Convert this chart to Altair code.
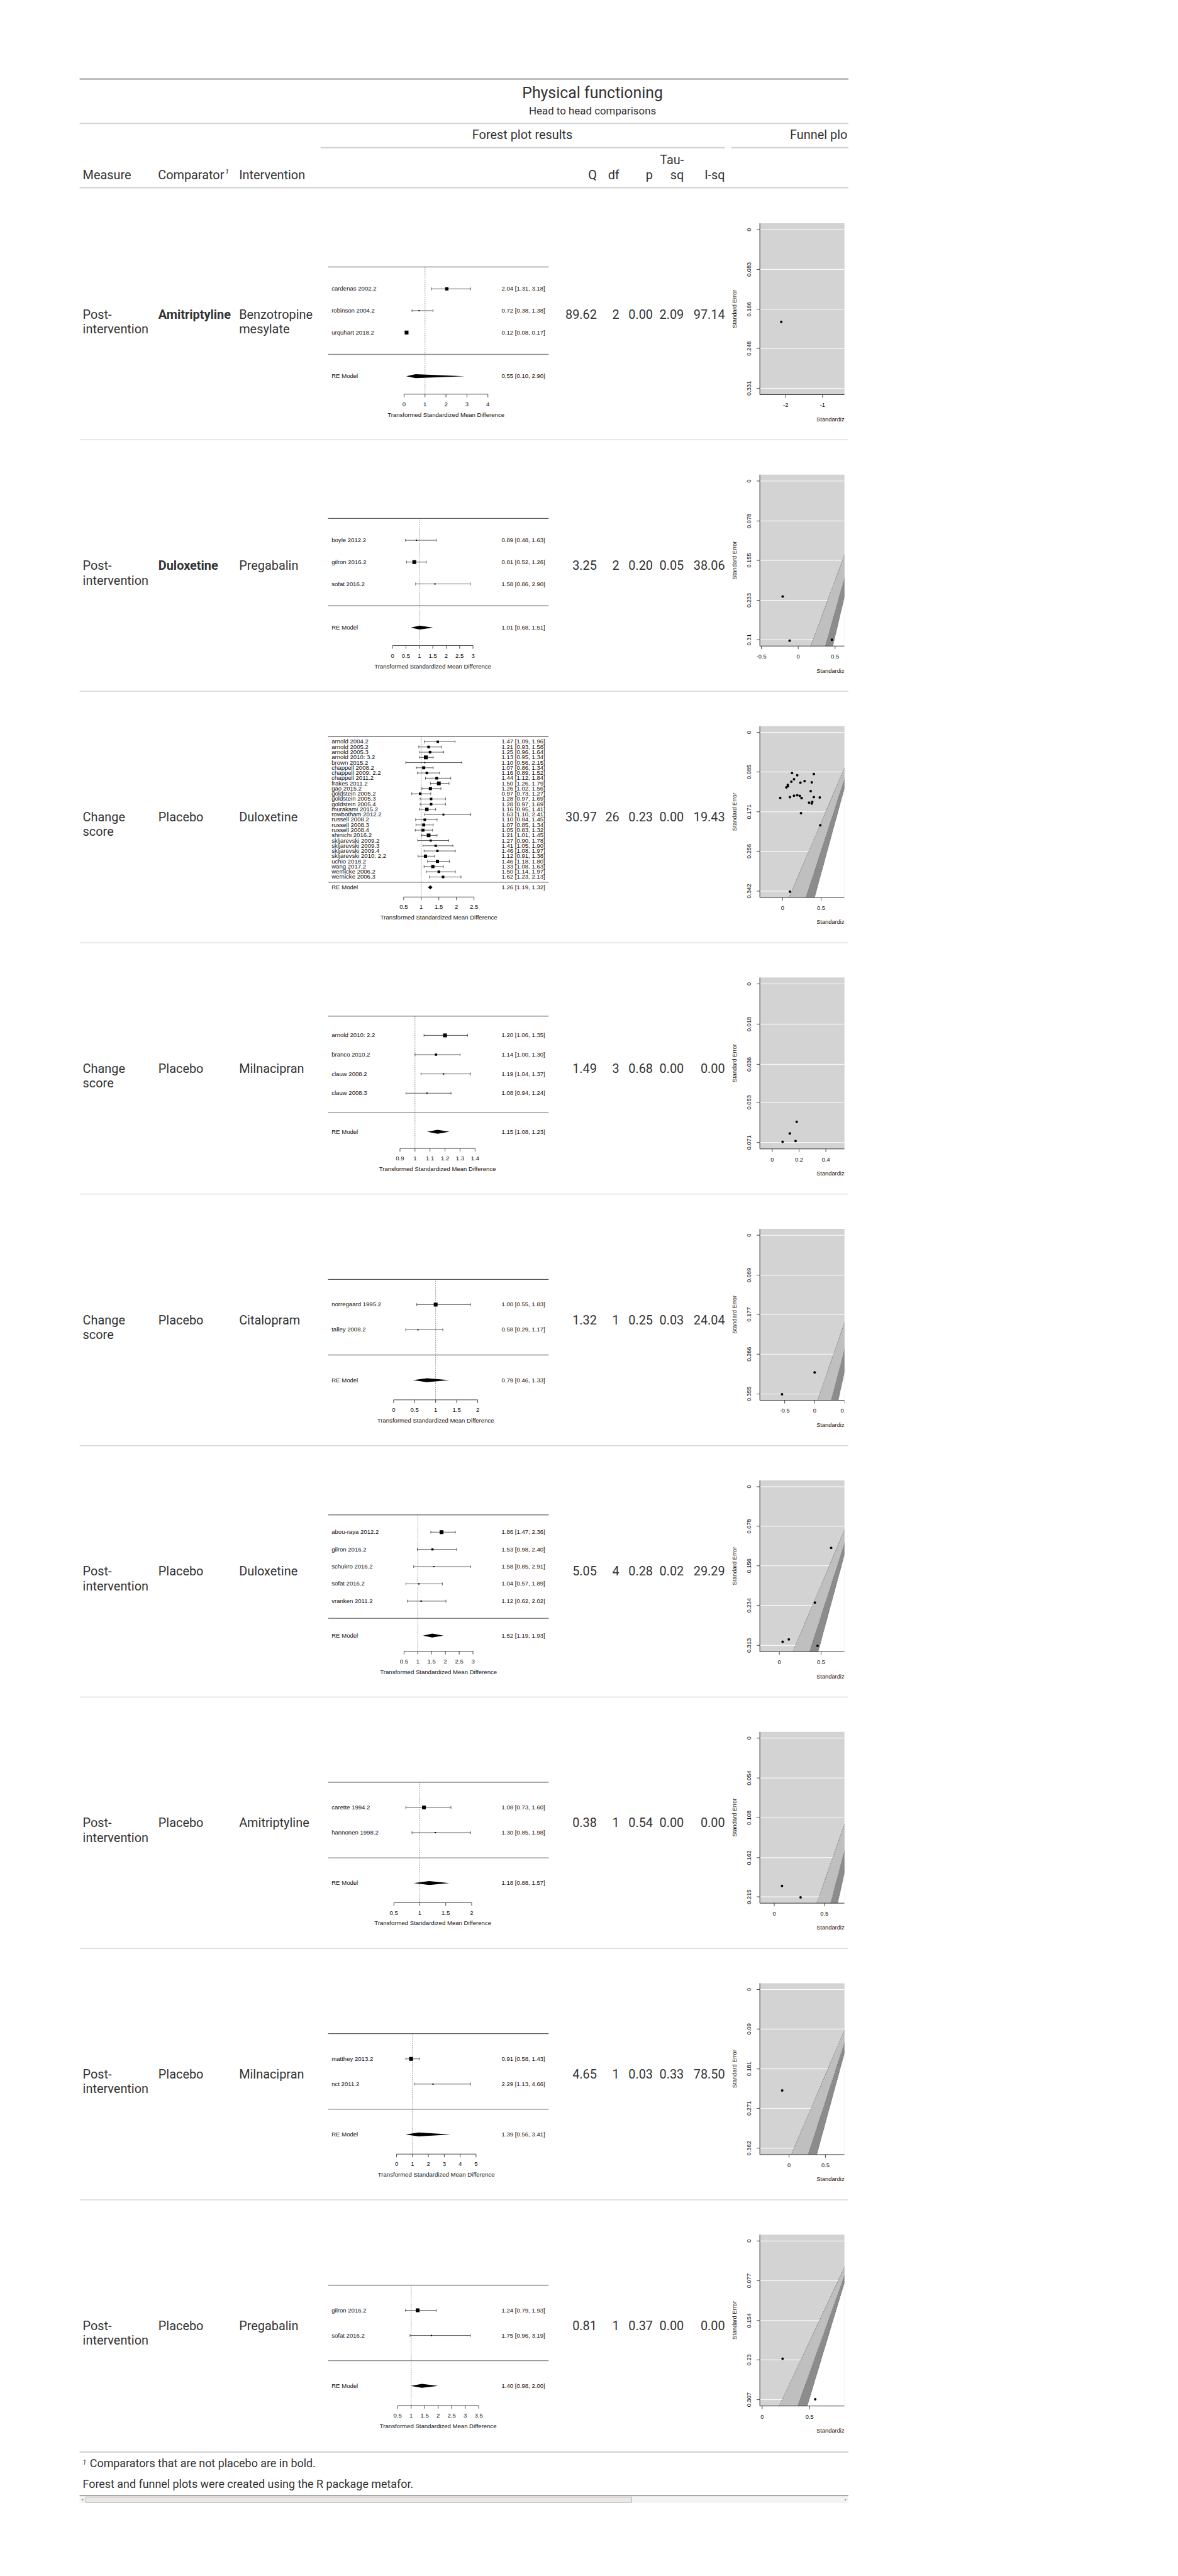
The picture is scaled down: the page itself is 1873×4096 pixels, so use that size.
import altair as alt
import pandas as pd

S = 0.623  # drawing scale (reference px -> window px)

# ============================ DATA ============================
title_text = "Physical functioning"
subtitle_text = "Head to head comparisons"
spanner_forest = "Forest plot results"
spanner_funnel = "Funnel plots"
col_labels = ["Measure", "Comparator", "Intervention", "Q", "df", "p", "Tau-sq", "I-sq"]
footnote_1 = "Comparators that are not placebo are in bold."
footnote_2 = "Forest and funnel plots were created using the R package metafor."

measures = ["Post-intervention", "Post-intervention", "Change score", "Change score", "Change score",
            "Post-intervention", "Post-intervention", "Post-intervention", "Post-intervention"]
comparators = ["Amitriptyline", "Duloxetine", "Placebo", "Placebo", "Placebo",
               "Placebo", "Placebo", "Placebo", "Placebo"]
comparator_bold = [True, True, False, False, False, False, False, False, False]
interventions = ["Benzotropine mesylate", "Pregabalin", "Duloxetine", "Milnacipran", "Citalopram",
                 "Duloxetine", "Amitriptyline", "Milnacipran", "Pregabalin"]
q_values = [89.62, 3.25, 30.97, 1.49, 1.32, 5.05, 0.38, 4.65, 0.81]
df_values = [2, 2, 26, 3, 1, 4, 1, 1, 1]
p_values = [0.00, 0.20, 0.23, 0.68, 0.25, 0.28, 0.54, 0.03, 0.37]
tau_sq_values = [2.09, 0.05, 0.00, 0.00, 0.03, 0.02, 0.00, 0.33, 0.00]
i_sq_values = [97.14, 38.06, 19.43, 0.00, 24.04, 29.29, 0.00, 78.50, 0.00]

study_labels = [
    ["cardenas 2002.2", "robinson 2004.2", "urquhart 2018.2"],
    ["boyle 2012.2", "gilron 2016.2", "sofat 2016.2"],
    ["arnold 2004.2", "arnold 2005.2", "arnold 2005.3", "arnold 2010: 3.2", "brown 2015.2",
     "chappell 2008.2", "chappell 2009: 2.2", "chappell 2011.2", "frakes 2011.2", "gao 2015.2",
     "goldstein 2005.2", "goldstein 2005.3", "goldstein 2005.4", "murakami 2015.2",
     "rowbotham 2012.2", "russell 2008.2", "russell 2008.3", "russell 2008.4", "shinichi 2016.2",
     "skljarevski 2009.2", "skljarevski 2009.3", "skljarevski 2009.4", "skljarevski 2010: 2.2",
     "uchio 2018.2", "wang 2017.2", "wernicke 2006.2", "wernicke 2006.3"],
    ["arnold 2010: 2.2", "branco 2010.2", "clauw 2008.2", "clauw 2008.3"],
    ["norregaard 1995.2", "talley 2008.2"],
    ["abou-raya 2012.2", "gilron 2016.2", "schukro 2016.2", "sofat 2016.2", "vranken 2011.2"],
    ["carette 1994.2", "hannonen 1998.2"],
    ["matthey 2013.2", "nct 2011.2"],
    ["gilron 2016.2", "sofat 2016.2"],
]
study_est = [
    [2.04, 0.72, 0.12],
    [0.89, 0.81, 1.58],
    [1.47, 1.21, 1.25, 1.13, 1.10, 1.07, 1.16, 1.44, 1.50, 1.26, 0.97, 1.28, 1.28, 1.16,
     1.63, 1.10, 1.07, 1.05, 1.21, 1.27, 1.41, 1.46, 1.12, 1.46, 1.33, 1.50, 1.62],
    [1.20, 1.14, 1.19, 1.08],
    [1.00, 0.58],
    [1.86, 1.53, 1.58, 1.04, 1.12],
    [1.08, 1.30],
    [0.91, 2.29],
    [1.24, 1.75],
]
study_lo = [
    [1.31, 0.38, 0.08],
    [0.48, 0.52, 0.86],
    [1.09, 0.93, 0.96, 0.95, 0.56, 0.86, 0.89, 1.12, 1.26, 1.02, 0.73, 0.97, 0.97, 0.95,
     1.10, 0.84, 0.85, 0.83, 1.01, 0.90, 1.05, 1.08, 0.91, 1.18, 1.08, 1.14, 1.23],
    [1.06, 1.00, 1.04, 0.94],
    [0.55, 0.29],
    [1.47, 0.98, 0.85, 0.57, 0.62],
    [0.73, 0.85],
    [0.58, 1.13],
    [0.79, 0.96],
]
study_hi = [
    [3.18, 1.38, 0.17],
    [1.63, 1.26, 2.90],
    [1.96, 1.58, 1.64, 1.34, 2.15, 1.34, 1.52, 1.84, 1.79, 1.56, 1.27, 1.69, 1.69, 1.41,
     2.41, 1.45, 1.34, 1.32, 1.45, 1.78, 1.90, 1.97, 1.38, 1.80, 1.63, 1.97, 2.13],
    [1.35, 1.30, 1.37, 1.24],
    [1.83, 1.17],
    [2.36, 2.40, 2.91, 1.89, 2.02],
    [1.60, 1.98],
    [1.43, 4.66],
    [1.93, 3.19],
]
re_label = "RE Model"
re_est = [0.55, 1.01, 1.26, 1.15, 0.79, 1.52, 1.18, 1.39, 1.40]
re_lo = [0.10, 0.68, 1.19, 1.08, 0.46, 1.19, 0.88, 0.56, 0.98]
re_hi = [2.90, 1.51, 1.32, 1.23, 1.33, 1.93, 1.57, 3.41, 2.00]

forest_ticks = [
    [0, 1, 2, 3, 4],
    [0, 0.5, 1, 1.5, 2, 2.5, 3],
    [0.5, 1, 1.5, 2, 2.5],
    [0.9, 1.0, 1.1, 1.2, 1.3, 1.4],
    [0, 0.5, 1, 1.5, 2],
    [0.5, 1, 1.5, 2, 2.5, 3],
    [0.5, 1, 1.5, 2],
    [0, 1, 2, 3, 4, 5],
    [0.5, 1, 1.5, 2, 2.5, 3, 3.5],
]
forest_axis_title = "Transformed Standardized Mean Difference"

funnel_se_ticks = [
    ["0", "0.083", "0.166", "0.248", "0.331"],
    ["0", "0.078", "0.155", "0.233", "0.31"],
    ["0", "0.085", "0.171", "0.256", "0.342"],
    ["0", "0.018", "0.036", "0.053", "0.071"],
    ["0", "0.089", "0.177", "0.266", "0.355"],
    ["0", "0.078", "0.156", "0.234", "0.313"],
    ["0", "0.054", "0.108", "0.162", "0.215"],
    ["0", "0.09", "0.181", "0.271", "0.362"],
    ["0", "0.077", "0.154", "0.23", "0.307"],
]
funnel_x_ticks = [
    [-2, -1], [-0.5, 0, 0.5], [0, 0.5], [0, 0.2, 0.4], [-0.5, 0, 0.5],
    [0, 0.5], [0, 0.5], [0, 0.5], [0, 0.5],
]
# visible part of each funnel's x range (the image is clipped on the right)
funnel_x_window = [
    [-2.702, -0.404], [-0.521, 0.628], [-0.295, 0.803], [-0.093, 0.539], [-0.915, 0.497],
    [-0.234, 0.780], [-0.144, 0.700], [-0.402, 0.762], [-0.025, 0.868],
]
funnel_refline = 1.0
contour_z = [2.576, 1.960, 1.645]  # 99%, 95%, 90% contours
funnel_y_title = "Standard Error"
funnel_x_title = "Standardized Mean Difference"

# ============================ LAYOUT ============================
W = 1962.0          # table width (reference px)
WV = 1952.0         # visible (clipped) width of the embedded images
ROW0 = 281.0        # top of first body row
ROWH = 641.7        # body row height
H = 6195.0
TF = "Roboto"
RF = "Liberation Sans"
TC = "#333333"
FS = 19.9
FOREST_TICK_PX = [(828, 1042), (798.7, 1004), (827, 1006.5), (817.6, 1009.2), (801.3, 1016),
                  (827.9, 1004), (802, 1000.6), (809, 1011.7), (811.6, 1018.6)]
FOREST_TOP, FOREST_BOTTOM = 89.0, 507.0
FOREST_X0, FOREST_X1 = 634.0, 1197.0
FOREST_LABEL_X, FOREST_ANN_X = 643.0, 1188.0
FUNNEL_X0, FUNNEL_X1 = 1736.0, WV
FUNNEL_TOP, FUNNEL_BOTTOM = 88.8, 526.2
RFS = 9.6
FFS = 9.3
CI = "#333333"


def P(v):
    return round(v * S, 2)


ONE = pd.DataFrame({"k": [0]})


def txt(s, x, y, size, align="left", baseline="alphabetic", weight="normal", style="normal",
        font=TF, color=TC, limit=None):
    kw = {}
    if limit is not None:
        kw = {"limit": limit, "ellipsis": " "}
    return alt.Chart(pd.DataFrame({"t": [s]})).mark_text(
        align=align, baseline=baseline, fontSize=size, fontWeight=weight, fontStyle=style,
        font=font, color=color, **kw
    ).encode(x=alt.value(P(x)), y=alt.value(P(y)), text="t:N")


def hrule(y, x0, x1, color, width):
    return alt.Chart(ONE).mark_rule(color=color, strokeWidth=width).encode(
        x=alt.value(P(x0)), x2=alt.value(P(x1)), y=alt.value(P(y)))


layers = []

# ---------------- header ----------------
layers += [
    hrule(1.75, 0, W, "#A8A8A8", P(3.5)),
    txt(title_text, 1309, 50, 24.9, align="center"),
    txt(subtitle_text, 1309, 91.7, 16.9, align="center"),
    hrule(115, 0, W, "#D3D3D3", P(3.5)),
    txt(spanner_forest, 1130, 155, FS, align="center"),
    txt(spanner_funnel, 1813, 155, FS, limit=P(161)),
    hrule(177, 615, 1647, "#D3D3D3", P(3.5)),
    hrule(177, 1663, W, "#D3D3D3", P(3.5)),
    hrule(279, 0, W, "#D3D3D3", P(3.5)),
]
COL_POS = [(8, "left"), (200, "left"), (407, "left"), (1320, "right"), (1377.5, "right"),
           (1463, "right"), (1542, "right"), (1647, "right")]
for lab, (cx, al) in zip(col_labels, COL_POS):
    if lab == "Tau-sq":
        a, b = lab.split("-")
        layers.append(txt(a + "-", cx, 218.3, FS, align=al))
        layers.append(txt(b, cx, 256.7, FS, align=al))
    else:
        layers.append(txt(lab, cx, 256.7, FS, align=al))
layers.append(txt("1", 371, 245, 11.5, style="italic"))

# ---------------- table body ----------------
rows_df = pd.DataFrame({
    "row": list(range(len(measures))),
    "measure": [m.replace("-", "-\n") if "-" in m else m.replace(" ", "\n") for m in measures],
    "comparator": comparators,
    "bold": comparator_bold,
    "intervention": [s.replace(" ", "\n") for s in interventions],
    "Q": q_values, "df": df_values, "p": p_values, "tau": tau_sq_values, "isq": i_sq_values,
})
row_scale = alt.Scale(domain=[0, 8], range=[P(ROW0 + ROWH / 2), P(ROW0 + ROWH * 8.5)])
YR = alt.Y("row:Q", scale=row_scale, axis=None)


def body(text_enc, x, align="left", weight="normal", flt=None):
    c = alt.Chart(rows_df)
    if flt:
        c = c.transform_filter(flt)
    return c.mark_text(align=align, baseline="middle", font=TF, fontSize=FS, fontWeight=weight,
                       lineBreak="\n", lineHeight=P(37.5), color=TC, dy=1).encode(
        x=alt.value(P(x)), y=YR, text=text_enc)


layers += [
    body("measure:N", 8),
    body("comparator:N", 201, weight="bold", flt="datum.bold"),
    body("comparator:N", 201, flt="!datum.bold"),
    body("intervention:N", 407),
    body(alt.Text("Q:Q", format=".2f"), 1320, align="right"),
    body(alt.Text("df:Q", format="d"), 1377.5, align="right"),
    body(alt.Text("p:Q", format=".2f"), 1463, align="right"),
    body(alt.Text("tau:Q", format=".2f"), 1542, align="right"),
    body(alt.Text("isq:Q", format=".2f"), 1647, align="right"),
    alt.Chart(pd.DataFrame({"b": [i + 0.5 for i in range(8)]})).mark_rule(
        color="#D3D3D3", strokeWidth=1.2).encode(
        y=alt.Y("b:Q", scale=row_scale, axis=None), x=alt.value(0), x2=alt.value(P(W))),
    alt.Chart(pd.DataFrame({"b": [8.5]})).mark_rule(color="#D3D3D3", strokeWidth=P(3.5)).encode(
        y=alt.Y("b:Q", scale=row_scale, axis=None), x=alt.value(0), x2=alt.value(P(W)),
        yOffset=alt.value(P(2))),
]


# ---------------- forest plots ----------------
def forest_layers(i):
    k = len(study_labels[i])
    top = ROW0 + ROWH * i
    ticks = forest_ticks[i]
    xs = alt.Scale(domain=[ticks[0], ticks[-1]],
                   range=[P(FOREST_TICK_PX[i][0]), P(FOREST_TICK_PX[i][1])])
    ys = alt.Scale(domain=[-1.5, k + 3], range=[P(top + FOREST_BOTTOM), P(top + FOREST_TOP)])

    def X(f):
        return alt.X(f, scale=xs, axis=None)

    def Y(f):
        return alt.Y(f, scale=ys, axis=None)

    sd = pd.DataFrame({"label": study_labels[i], "est": study_est[i], "lo": study_lo[i],
                       "hi": study_hi[i], "yrow": list(range(k, 0, -1))})
    sd["tau2"] = tau_sq_values[i]
    base = alt.Chart(sd).transform_calculate(
        sei="(log(datum.hi) - log(datum.lo)) / 3.92"
    ).transform_calculate(
        wi="1 / sqrt(datum.sei * datum.sei + datum.tau2)"
    ).transform_joinaggregate(
        wmin="min(wi)", wmax="max(wi)"
    ).transform_calculate(
        psize="datum.wmax - datum.wmin > 1e-9 ? 0.5 + (datum.wi - datum.wmin) / (datum.wmax - datum.wmin) : 1"
    ).transform_calculate(
        parea="datum.psize * datum.psize",
        ann="format(datum.est, '.2f') + ' [' + format(datum.lo, '.2f') + ', ' + format(datum.hi, '.2f') + ']'"
    )
    red = pd.DataFrame({"label": [re_label], "est": [re_est[i]], "lo": [re_lo[i]], "hi": [re_hi[i]],
                        "yrow": [-1]})
    rebase = alt.Chart(red).transform_calculate(
        ann="format(datum.est, '.2f') + ' [' + format(datum.lo, '.2f') + ', ' + format(datum.hi, '.2f') + ']'"
    )
    h = 5.0 * (k + 4.5) / (FOREST_BOTTOM - FOREST_TOP)
    dia = pd.DataFrame({"xv": [re_lo[i], re_est[i], re_hi[i]],
                        "yt": [-1, -1 + h, -1], "yb": [-1, -1 - h, -1]})
    axd = pd.DataFrame({"t": ticks, "lab": [f"{t:g}" for t in ticks], "yb": -1.5})
    out = [
        alt.Chart(pd.DataFrame({"yv": [k + 1]})).mark_rule(color="#222222", strokeWidth=0.9).encode(
            x=alt.value(P(FOREST_X0)), x2=alt.value(P(FOREST_X1)), y=Y("yv:Q")),
        alt.Chart(pd.DataFrame({"yv": [0]})).mark_rule(color="#8A8A8A", strokeWidth=1.4).encode(
            x=alt.value(P(FOREST_X0)), x2=alt.value(P(FOREST_X1)), y=Y("yv:Q")),
        alt.Chart(pd.DataFrame({"xv": [funnel_refline], "yv": [k + 1]})).mark_rule(
            color="#555555", strokeWidth=0.7, strokeDash=[1.5, 1.5]).encode(
            x=X("xv:Q"), y=Y("yv:Q"), y2=alt.value(P(top + 525))),
        base.mark_rule(color=CI, strokeWidth=0.8).encode(x=X("lo:Q"), x2="hi:Q", y=Y("yrow:Q")),
        base.mark_rule(color=CI, strokeWidth=0.8, yOffset=-P(3.5), y2Offset=P(3.5)).encode(
            x=X("lo:Q"), y=Y("yrow:Q"), y2="yrow:Q"),
        base.mark_rule(color=CI, strokeWidth=0.8, yOffset=-P(3.5), y2Offset=P(3.5)).encode(
            x=X("hi:Q"), y=Y("yrow:Q"), y2="yrow:Q"),
        base.mark_square(color="black", opacity=1).encode(
            x=X("est:Q"), y=Y("yrow:Q"),
            size=alt.Size("parea:Q", scale=alt.Scale(domain=[0, 2.25], range=[0, 37]), legend=None)),
        base.mark_text(align="left", baseline="middle", font=RF, fontSize=RFS, color="#111111").encode(
            x=alt.value(P(FOREST_LABEL_X)), y=Y("yrow:Q"), text="label:N"),
        base.mark_text(align="right", baseline="middle", font=RF, fontSize=RFS, color="#111111").encode(
            x=alt.value(P(FOREST_ANN_X)), y=Y("yrow:Q"), text="ann:N"),
        rebase.mark_text(align="left", baseline="middle", font=RF, fontSize=RFS, color="#111111").encode(
            x=alt.value(P(FOREST_LABEL_X)), y=Y("yrow:Q"), text="label:N"),
        rebase.mark_text(align="right", baseline="middle", font=RF, fontSize=RFS, color="#111111").encode(
            x=alt.value(P(FOREST_ANN_X)), y=Y("yrow:Q"), text="ann:N"),
        alt.Chart(dia).mark_area(color="black", opacity=1, orient="vertical").encode(
            x=X("xv:Q"), y=Y("yt:Q"), y2="yb:Q"),
        alt.Chart(pd.DataFrame({"a": [ticks[0]], "b": [ticks[-1]], "yb": [-1.5]})).mark_rule(
            color="#333333", strokeWidth=0.9, yOffset=P(18)).encode(x=X("a:Q"), x2="b:Q", y=Y("yb:Q")),
        alt.Chart(axd).mark_rule(color="#333333", strokeWidth=0.9, yOffset=P(18), y2Offset=P(26)).encode(
            x=X("t:Q"), y=Y("yb:Q"), y2="yb:Q"),
        alt.Chart(axd).mark_text(baseline="middle", align="center", font=RF, fontSize=RFS,
                                 color="#111111", yOffset=P(44)).encode(
            x=X("t:Q"), y=Y("yb:Q"), text="lab:N"),
        alt.Chart(pd.DataFrame({"c": [(ticks[0] + ticks[-1]) / 2], "yb": [-1.5],
                                "t": [forest_axis_title]})).mark_text(
            baseline="middle", align="center", font=RF, fontSize=RFS, color="#111111",
            yOffset=P(71)).encode(x=X("c:Q"), y=Y("yb:Q"), text="t:N"),
    ]
    return out


# ---------------- funnel plots ----------------
def funnel_layers(i):
    top = ROW0 + ROWH * i
    yt = [float(s) for s in funnel_se_ticks[i]]
    m = yt[-1]
    y0, y1 = -0.04 * m, 1.04 * m
    xw0, xw1 = funnel_x_window[i]
    xs = alt.Scale(domain=[xw0, xw1], range=[P(FUNNEL_X0), P(FUNNEL_X1)])
    ys = alt.Scale(domain=[y0, y1], range=[P(top + FUNNEL_TOP), P(top + FUNNEL_BOTTOM)])

    def X(f):
        return alt.X(f, scale=xs, axis=None)

    def Y(f):
        return alt.Y(f, scale=ys, axis=None)

    se_ends = pd.DataFrame({"se": [0.0, y1]})
    z99, z95, z90 = contour_z
    ref = funnel_refline
    pts = pd.DataFrame({"est": study_est[i], "lo": study_lo[i], "hi": study_hi[i]})
    grid = pd.DataFrame({"yv": yt, "lab": funnel_se_ticks[i], "x0": xw0, "x1": xw1})
    xt = pd.DataFrame({"t": funnel_x_ticks[i], "lab": [f"{t:g}" for t in funnel_x_ticks[i]], "yb": y1})
    lines = pd.DataFrame({"z": [z for z in contour_z for _ in (0, 1)],
                          "se": [s for _ in contour_z for s in (0.0, y1)]})
    out = [
        alt.Chart(pd.DataFrame({"a": [xw0], "b": [xw1], "c": [y0], "d": [y1]})).mark_rect(
            color="#D3D3D3").encode(x=X("a:Q"), x2="b:Q", y=Y("c:Q"), y2="d:Q"),
        alt.Chart(grid).mark_rule(color="white", strokeWidth=1).encode(x=X("x0:Q"), x2="x1:Q", y=Y("yv:Q")),
        alt.Chart(se_ends).transform_calculate(
            xa=f"{ref} - {z90} * datum.se", xb=f"{ref} + {z90} * datum.se").mark_area(
            color="white", opacity=1, orient="horizontal", clip=True).encode(
            y=Y("se:Q"), x=X("xa:Q"), x2="xb:Q"),
        alt.Chart(se_ends).transform_calculate(
            xa=f"{ref} - {z95} * datum.se", xb=f"{ref} - {z90} * datum.se").mark_area(
            color="#8C8C8C", opacity=1, orient="horizontal", clip=True).encode(
            y=Y("se:Q"), x=X("xa:Q"), x2="xb:Q"),
        alt.Chart(se_ends).transform_calculate(
            xa=f"{ref} - {z99} * datum.se", xb=f"{ref} - {z95} * datum.se").mark_area(
            color="#BFBFBF", opacity=1, orient="horizontal", clip=True).encode(
            y=Y("se:Q"), x=X("xa:Q"), x2="xb:Q"),
        alt.Chart(lines).transform_calculate(xv=f"{ref} - datum.z * datum.se").mark_line(
            color="#444444", strokeWidth=0.6, strokeDash=[1.5, 1.5], clip=True).encode(
            x=X("xv:Q"), y=Y("se:Q"), detail="z:N"),
        alt.Chart(pts).transform_calculate(
            yi="log(datum.est)", sei="(log(datum.hi) - log(datum.lo)) / 3.92").mark_circle(
            color="black", opacity=1, size=16, clip=True).encode(x=X("yi:Q"), y=Y("sei:Q")),
        # axes (box "l")
        alt.Chart(pd.DataFrame({"a": [xw0], "c": [y0], "d": [y1]})).mark_rule(
            color="#333333", strokeWidth=1).encode(x=X("a:Q"), y=Y("c:Q"), y2="d:Q"),
        alt.Chart(pd.DataFrame({"a": [xw0], "b": [xw1], "d": [y1]})).mark_rule(
            color="#333333", strokeWidth=1, clip=True).encode(x=X("a:Q"), x2="b:Q", y=Y("d:Q")),
        alt.Chart(grid).mark_rule(color="#333333", strokeWidth=0.9, xOffset=-P(8), x2Offset=0).encode(
            x=X("x0:Q"), x2="x0:Q", y=Y("yv:Q")),
        alt.Chart(grid).mark_text(angle=270, align="center", baseline="alphabetic", font=RF,
                                  fontSize=FFS, color="#111111", xOffset=-P(22)).encode(
            x=X("x0:Q"), y=Y("yv:Q"), text="lab:N"),
        alt.Chart(pd.DataFrame({"a": [xw0], "ym": [m / 2], "t": [funnel_y_title]})).mark_text(
            angle=270, align="center", baseline="alphabetic", font=RF, fontSize=FFS,
            color="#111111", xOffset=-P(59)).encode(x=X("a:Q"), y=Y("ym:Q"), text="t:N"),
        alt.Chart(xt).mark_rule(color="#333333", strokeWidth=0.9, y2Offset=P(8), clip=True).encode(
            x=X("t:Q"), y=Y("yb:Q"), y2="yb:Q"),
        alt.Chart(xt).mark_text(baseline="middle", align="center", font=RF, fontSize=FFS,
                                color="#111111", yOffset=P(27), clip=True).encode(
            x=X("t:Q"), y=Y("yb:Q"), text="lab:N"),
        alt.Chart(pd.DataFrame({"d": [y1], "t": [funnel_x_title]})).mark_text(
            baseline="middle", align="center", font=RF, fontSize=FFS, color="#111111",
            yOffset=P(63), clip=True).encode(
            x=alt.value(P(FUNNEL_X0 + 245)), y=Y("d:Q"), text="t:N"),
    ]
    return out


for i in range(len(measures)):
    layers += forest_layers(i)
    layers += funnel_layers(i)

# ---------------- footer ----------------
layers += [
    txt("1", 8, 6091, 10.5, style="italic"),
    txt(footnote_1, 26, 6097.3, 17.9),
    txt(footnote_2, 8, 6150, 17.9),
    hrule(6169.3, 0, W, "#A8A8A8", P(3.5)),
    alt.Chart(ONE).mark_rect(color="#F3F3F3").encode(
        x=alt.value(0), x2=alt.value(P(W)), y=alt.value(P(6172)), y2=alt.value(P(6188))),
    alt.Chart(ONE).mark_rect(fill="#ECE9E4", stroke="#A0A0A0", strokeWidth=0.8).encode(
        x=alt.value(P(16)), x2=alt.value(P(1409)), y=alt.value(P(6173)), y2=alt.value(P(6187))),
    alt.Chart(ONE).mark_point(shape="triangle-left", filled=True, color="#505050", size=10).encode(
        x=alt.value(P(7)), y=alt.value(P(6180))),
    alt.Chart(ONE).mark_point(shape="triangle-right", filled=True, color="#505050", size=10).encode(
        x=alt.value(P(1955)), y=alt.value(P(6180))),
]

chart = alt.layer(*layers).resolve_scale(
    x="independent", y="independent", size="independent"
).properties(
    width=P(WV), height=P(H),
    padding={"left": P(200), "top": P(200), "right": 0, "bottom": 5},
).configure_view(stroke=None)

chart.save("out.html", embed_options={"renderer": "svg", "actions": False})
